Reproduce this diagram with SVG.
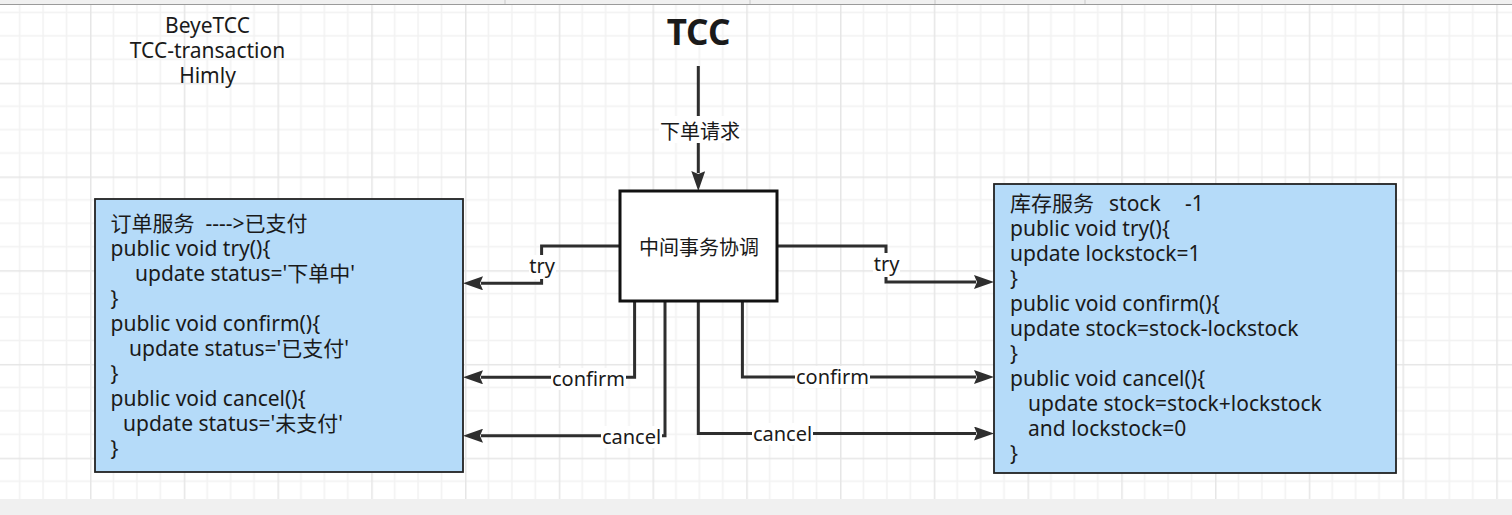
<svg xmlns="http://www.w3.org/2000/svg" width="1512" height="515" viewBox="0 0 1512 515">
<style>
.t{font-family:"Noto Sans","Noto Sans CJK SC",sans-serif;fill:#1a1a1a}
.box{font-size:21px}
.lbl{font-size:20px}
.conn{fill:none;stroke:#2e2e2e;stroke-width:3;stroke-linejoin:miter}
.bg{fill:#ffffff}
</style>
<defs>
<pattern id="grid" patternUnits="userSpaceOnUse" x="90" y="82.7" width="93.75" height="93.75">
<rect width="93.75" height="93.75" fill="#ffffff"/>
<path d="M23.44,0V93.75M46.88,0V93.75M70.31,0V93.75M0,23.44H93.75M0,46.88H93.75M0,70.31H93.75" stroke="#f2f2f2" stroke-width="1.5"/>
<path d="M0.75,0V93.75M0,0.75H93.75" stroke="#e6e6e6" stroke-width="1.5"/>
</pattern>
<marker id="ah" markerUnits="userSpaceOnUse" viewBox="0 -7 20 14" markerWidth="20" markerHeight="14" refX="2" refY="0" orient="auto">
<path d="M0,-7 L20,0 L0,7 L3,0 z" fill="#2e2e2e"/>
</marker>
</defs>
<rect width="1512" height="515" fill="#ffffff"/>
<rect x="0" y="4" width="1512" height="495" fill="url(#grid)"/>
<rect x="0" y="0" width="1512" height="4" fill="#f0f0f0"/>
<line x1="0" y1="4.5" x2="1512" y2="4.5" stroke="#9a9a9a" stroke-width="1"/>
<path d="M505,0V4M750,0V4M935,0V4M1085,0V4" stroke="#c8c8c8" stroke-width="1"/>
<rect x="0" y="499" width="1512" height="16" fill="#f0f0f0"/>

<g id="title-notes">
<text class="t" x="207.5" y="33" font-size="21" text-anchor="middle">BeyeTCC</text>
<text class="t" x="207.5" y="58" font-size="21" text-anchor="middle">TCC-transaction</text>
<text class="t" x="207.5" y="83" font-size="21" text-anchor="middle">Himly</text>
</g>

<g id="tcc-title">
<text class="t" x="698.5" y="45" font-size="35" font-weight="bold" text-anchor="middle" fill="#222">TCC</text>
</g>

<g id="connectors">
<path class="conn" d="M698.3,66V173" marker-end="url(#ah)"/>
<rect class="bg" x="659" y="116" width="82" height="27"/>
<text class="t lbl" x="700" y="138.5" text-anchor="middle">下单请求</text>

<path class="conn" d="M620,246H541.6V283.3H481" marker-end="url(#ah)"/>
<rect class="bg" x="529" y="255" width="27" height="24"/>
<text class="t lbl" x="542" y="273" text-anchor="middle">try</text>

<path class="conn" d="M777,246H886V282H976" marker-end="url(#ah)"/>
<rect class="bg" x="873" y="253" width="27" height="24"/>
<text class="t lbl" x="886.5" y="271" text-anchor="middle">try</text>

<path class="conn" d="M634.6,301V377.3H481" marker-end="url(#ah)"/>
<rect class="bg" x="551" y="368" width="75" height="22"/>
<text class="t lbl" x="588.5" y="386" text-anchor="middle">confirm</text>

<path class="conn" d="M665,301V435.7H481" marker-end="url(#ah)"/>
<rect class="bg" x="601" y="426" width="61" height="22"/>
<text class="t lbl" x="631.5" y="443.5" text-anchor="middle">cancel</text>

<path class="conn" d="M698.3,301V433.5H976" marker-end="url(#ah)"/>
<rect class="bg" x="752" y="423" width="61" height="22"/>
<text class="t lbl" x="782.5" y="440.5" text-anchor="middle">cancel</text>

<path class="conn" d="M742.4,301V377H976" marker-end="url(#ah)"/>
<rect class="bg" x="795" y="366" width="75" height="22"/>
<text class="t lbl" x="832.5" y="384" text-anchor="middle">confirm</text>
</g>

<g id="coordinator">
<rect x="620" y="191" width="157" height="110" fill="#ffffff" stroke="#111" stroke-width="3"/>
<text class="t" x="699" y="255" font-size="20" text-anchor="middle">中间事务协调</text>
</g>

<g id="order-service">
<rect x="95" y="199" width="368" height="273" fill="#b5dbf9" stroke="#222" stroke-width="1.8"/>
<text class="t box" x="110.5" y="230.5" xml:space="preserve">订单服务  ----&gt;已支付</text>
<text class="t box" x="110.5" y="255.5">public void try(){</text>
<text class="t box" x="135" y="280.5">update status='下单中'</text>
<text class="t box" x="110.5" y="305.5">}</text>
<text class="t box" x="110.5" y="330.5">public void confirm(){</text>
<text class="t box" x="129" y="355.5">update status='已支付'</text>
<text class="t box" x="110.5" y="380.5">}</text>
<text class="t box" x="110.5" y="405.5">public void cancel(){</text>
<text class="t box" x="123" y="430.5">update status='未支付'</text>
<text class="t box" x="110.5" y="455.5">}</text>
</g>

<g id="stock-service">
<rect x="994" y="184" width="402" height="289" fill="#b5dbf9" stroke="#222" stroke-width="1.8"/>
<text class="t box" x="1010" y="211">库存服务</text>
<text class="t box" x="1109" y="211">stock</text>
<text class="t box" x="1185" y="211">-1</text>
<text class="t box" x="1010" y="236">public void try(){</text>
<text class="t box" x="1010" y="261">update lockstock=1</text>
<text class="t box" x="1010" y="286">}</text>
<text class="t box" x="1010" y="311">public void confirm(){</text>
<text class="t box" x="1010" y="336">update stock=stock-lockstock</text>
<text class="t box" x="1010" y="361">}</text>
<text class="t box" x="1010" y="386">public void cancel(){</text>
<text class="t box" x="1028" y="411">update stock=stock+lockstock</text>
<text class="t box" x="1028" y="436">and lockstock=0</text>
<text class="t box" x="1010" y="461">}</text>
</g>
</svg>
